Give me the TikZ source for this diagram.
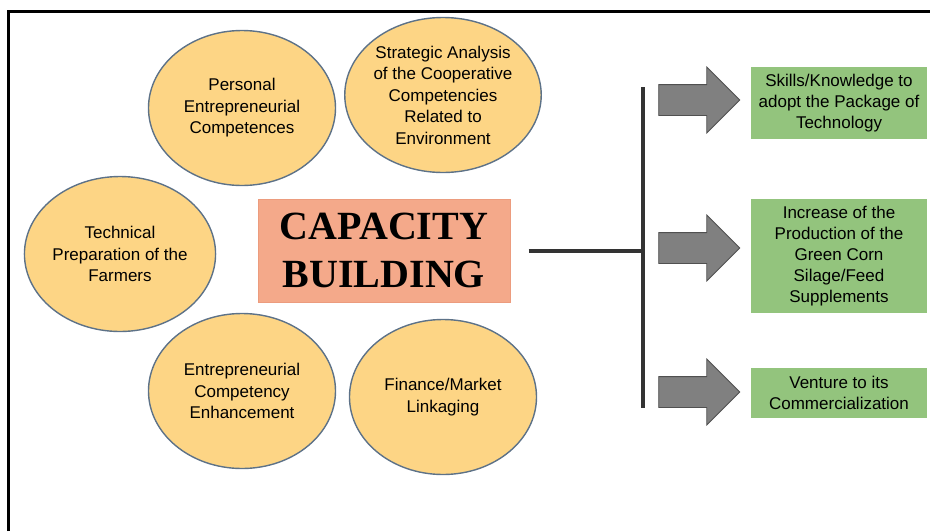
\documentclass[tikz,border=0pt]{standalone}
\usepackage{fontspec}
\setmainfont{Liberation Sans}
\newfontfamily\titlefont{Liberation Serif}
\usetikzlibrary{shapes.geometric,shapes.arrows,positioning}

\definecolor{ideafill}{HTML}{FDD585}
\definecolor{idealine}{HTML}{5D7288}
\definecolor{corefill}{HTML}{F4A98A}
\definecolor{coreline}{HTML}{EC9C7E}
\definecolor{resultfill}{HTML}{93C47D}
\definecolor{arrowfill}{HTML}{808080}
\definecolor{arrowline}{HTML}{505050}
\definecolor{barline}{HTML}{333333}

\begin{document}
\begin{tikzpicture}[x=1pt,y=-1pt,
        idea/.style={ellipse, draw=idealine, line width=1.4pt, fill=ideafill,
            inner sep=0pt, minimum width=187pt, minimum height=155pt,
            align=center, font=\fontsize{17}{21.5}\selectfont},
        core/.style={rectangle, draw=coreline, line width=1pt, fill=corefill,
            minimum width=252pt, minimum height=103pt, align=center,
            font=\titlefont\bfseries\fontsize{40}{48}\selectfont},
        result/.style={rectangle, fill=resultfill, minimum width=176pt,
            align=center, font=\fontsize{17}{21}\selectfont},
        blockarrow/.style={single arrow, draw=arrowline, line width=0.8pt,
            fill=arrowfill, inner sep=0pt, inner ysep=15pt,
            single arrow head extend=17.5pt, minimum height=81pt},
        bar/.style={draw=barline, line width=4pt}]

    \useasboundingbox (0,0) rectangle (930,531);
    \draw[line width=3pt] (8,531) -- (8,11.5) -- (930,11.5);

    % competences around the centre
    \node[idea] (personal) at (242,108) {Personal\\Entrepreneurial\\Competences};
    \node[idea] (strategic) at (443,95) {Strategic Analysis\\of the Cooperative\\Competencies\\Related to\\Environment};
    \node[idea] (technical) at (120,254) {Technical\\Preparation of the\\Farmers};
    \node[idea] (enhance) at (242,391) {Entrepreneurial\\Competency\\Enhancement};
    \node[idea] (finance) at (443,397) {Finance/Market\\Linkaging};

    \node[core] (capacity) at (384,250.5) {CAPACITY\\BUILDING};

    % branching bar
    \coordinate (bartop) at (643,87);
    \coordinate (barbot) at (643,408);
    \draw[bar] (bartop) -- (barbot);
    \draw[bar] ([xshift=18pt]capacity.east) -- (capacity.east -| bartop);

    % outcomes
    \node[blockarrow] (arrowA) at (691.5,100) {};
    \node[blockarrow] (arrowB) at (691.5,248) {};
    \node[blockarrow] (arrowC) at (691.5,392) {};

    \node[result, minimum height=72pt] (skills) at (839,103) {Skills/Knowledge to\\adopt the Package of\\Technology};
    \node[result, minimum height=114pt] (silage) at (839,256) {Increase of the\\Production of the\\Green Corn\\Silage/Feed\\Supplements};
    \node[result, minimum height=50pt] (venture) at (839,393) {Venture to its\\Commercialization};
\end{tikzpicture}
\end{document}
